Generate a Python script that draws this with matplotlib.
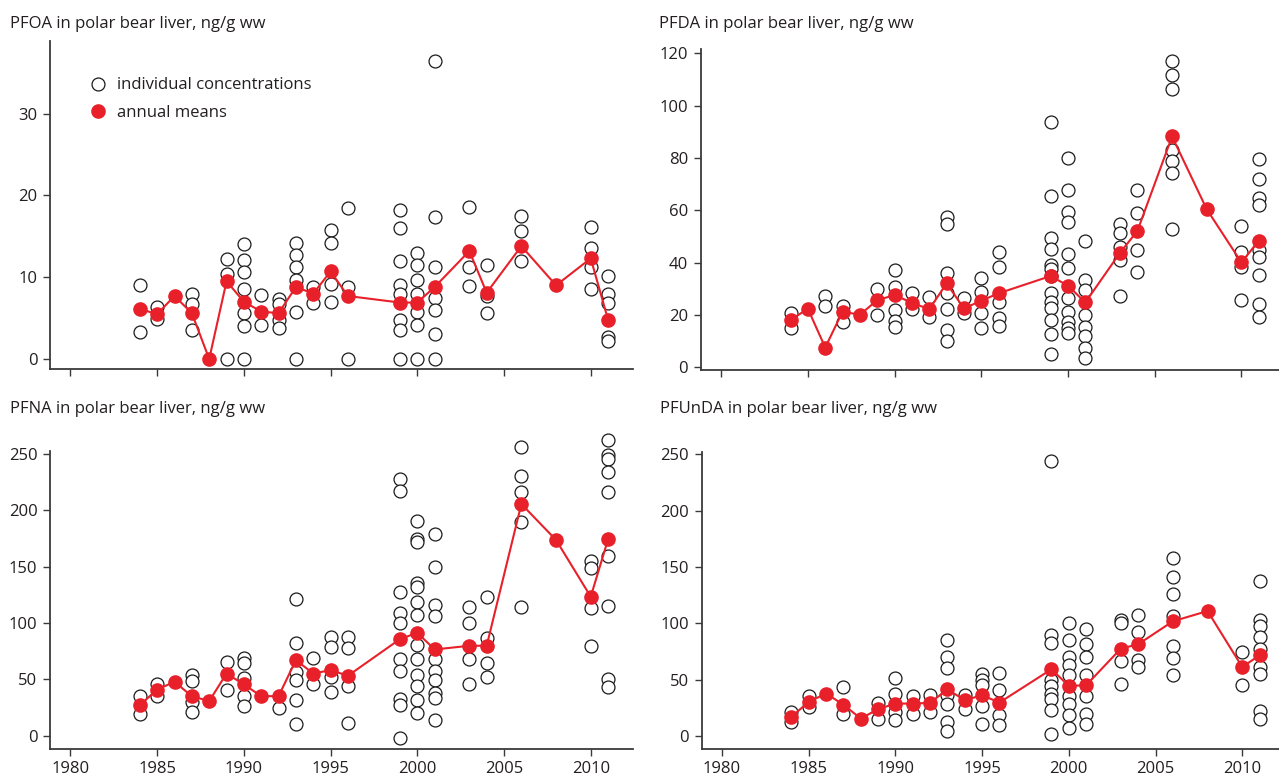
import matplotlib
matplotlib.use('Agg')
import matplotlib.pyplot as plt
from matplotlib.lines import Line2D

plt.rcParams['font.family'] = ['Open Sans', 'DejaVu Sans']

years = [1984, 1985, 1986, 1987, 1988, 1989, 1990, 1991, 1992, 1993, 1994,
         1995, 1996, 1999, 2000, 2001, 2003, 2004, 2006, 2008, 2010, 2011]

# PFOA
pfoa_means = [6.1, 5.5, 7.7, 5.6, 0, 9.5, 7.0, 5.8, 5.6, 8.8, 8.0,
              10.7, 7.7, 6.9, 6.9, 8.8, 13.2, 8.1, 13.8, 9.0, 12.3, 4.8]
pfoa_indiv = [
    [9.1, 3.3], [6.4, 4.9], [], [7.9, 6.7, 3.5], [], [12.2, 10.4, 0],
    [14.1, 12.1, 10.6, 8.6, 5.6, 4.0, 0], [7.8, 4.2], [7.3, 6.7, 4.8, 3.8],
    [14.2, 12.7, 11.2, 9.7, 5.8, 0], [8.8, 6.8], [15.8, 14.2, 9.2, 7.0],
    [18.4, 8.8, 0], [18.2, 16.0, 12.0, 9.0, 8.0, 4.8, 3.5, 0],
    [12.9, 11.5, 9.7, 8.0, 5.8, 4.2, 0], [36.4, 17.3, 11.3, 7.5, 6.0, 3.0, 0],
    [18.6, 11.3, 8.9], [11.5, 7.7, 5.6], [17.5, 15.6, 12.0], [],
    [16.1, 13.6, 11.2, 8.5], [10.1, 8.0, 6.9, 2.7, 2.2]]

# PFDA
pfda_means = [18.1, 22.4, 7.6, 21.3, 20.1, 25.7, 27.6, 24.7, 22.2, 32.1, 22.5,
              25.5, 28.3, 34.9, 31.2, 24.8, 43.8, 52.1, 88.2, 60.4, 40.1, 48.4]
pfda_indiv = [
    [20.6, 14.9], [], [27.1, 23.6], [23.6, 17.5], [], [29.8, 20.1],
    [37.2, 30.6, 21.9, 17.8, 15.3], [28.3, 22.3], [27.0, 19.4],
    [57.3, 54.8, 36.2, 28.3, 22.3, 14.3, 10.2], [26.6, 20.6],
    [34.0, 28.9, 20.6, 14.9], [43.9, 38.5, 25.1, 18.7, 15.8],
    [93.6, 65.5, 49.3, 45.1, 39.1, 37.5, 34.9, 28.3, 25.1, 22.5, 18.1, 12.7, 5.0],
    [79.9, 67.8, 59.2, 55.4, 43.2, 37.8, 26.4, 21.0, 17.5, 14.9, 13.0],
    [48.4, 33.4, 29.6, 20.0, 15.5, 12.0, 7.3, 3.7],
    [54.8, 51.2, 46.1, 41.0, 27.3], [67.8, 58.9, 44.8, 36.6],
    [117.2, 111.7, 106.2, 83.1, 79.0, 74.1, 52.7], [],
    [54.0, 44.2, 38.5, 25.7],
    [79.6, 72.0, 64.6, 62.0, 44.8, 42.0, 35.3, 24.2, 19.4]]

# PFNA
pfna_means = [27.2, 41.1, 47.9, 35.2, 30.8, 55.3, 45.6, 35.2, 35.2, 67.2, 55.3,
              58.3, 53.3, 85.8, 91.4, 76.6, 79.9, 79.9, 205.6, 173.7, 123.4, 174.3]
pfna_indiv = [
    [35.2, 19.8], [45.6, 35.2], [], [53.8, 48.8, 29.6, 21.3], [], [65.4, 40.5],
    [69.2, 64.2, 50.9, 35.2, 26.3], [], [24.3],
    [121.0, 82.0, 56.8, 49.4, 31.7, 10.9], [69.2, 46.4],
    [87.3, 79.0, 52.4, 39.1], [87.3, 77.5, 44.1, 11.5],
    [227.5, 217.2, 127.8, 109.2, 100.3, 67.8, 57.4, 33.1, 27.2, -1.5],
    [190.5, 174.6, 172.2, 135.2, 132.2, 118.3, 107.1, 80.5, 67.8, 54.4, 44.1, 31.7, 20.4],
    [179.0, 149.4, 116.0, 106.2, 67.8, 57.4, 49.4, 37.6, 34.0, 13.9],
    [114.5, 100.3, 68.6, 45.6], [122.8, 86.4, 64.8, 52.4],
    [255.9, 230.5, 216.6, 189.9, 114.5], [],
    [155.3, 149.1, 113.0, 79.9],
    [262.4, 249.1, 245.3, 234.3, 216.6, 159.8, 115.4, 50.0, 43.5]]

# PFUnDA
pfunda_means = [16.9, 30.2, 37.6, 27.8, 15.4, 23.7, 28.7, 28.7, 29.3, 41.4, 31.7,
                36.1, 29.6, 59.2, 44.4, 45.0, 77.5, 81.4, 101.8, 110.9, 61.2, 71.6]
pfunda_indiv = [
    [21.3, 12.4], [35.2, 25.7], [], [43.5, 19.2], [], [29.3, 15.4],
    [51.8, 37.6, 21.3, 13.9], [35.2, 19.8], [36.1, 21.3],
    [85.5, 70.1, 60.7, 36.1, 28.7, 12.4, 4.4], [36.1, 24.3],
    [54.7, 49.4, 45.0, 26.3, 10.9], [55.9, 40.5, 18.9, 9.5],
    [243.8, 89.3, 82.8, 49.4, 44.1, 37.6, 33.1, 23.4, 2.1],
    [100.3, 85.5, 70.1, 62.7, 53.8, 35.2, 28.7, 18.3, 7.4],
    [95.3, 81.4, 70.1, 53.8, 35.2, 19.8, 10.9],
    [103.3, 100.3, 66.6, 46.4], [107.1, 92.3, 67.2, 61.2],
    [158.0, 141.1, 125.7, 106.2, 79.6, 69.2, 53.8], [],
    [74.6, 45.0],
    [137.3, 102.7, 97.3, 87.9, 77.5, 61.2, 55.3, 21.9, 15.4]]

titles = ['PFOA in polar bear liver, ng/g ww', 'PFDA in polar bear liver, ng/g ww',
          'PFNA in polar bear liver, ng/g ww', 'PFUnDA in polar bear liver, ng/g ww']

TEXT = '#231f20'
RED = '#e8202a'
W, H = 1279, 778
FS = 12

fig = plt.figure(figsize=(12.79, 7.78), dpi=100)


def px_axes(left, top, right, bottom):
    return fig.add_axes([left / W, 1 - bottom / H, (right - left) / W, (bottom - top) / H])


panels = [
    (px_axes(50, 40.7, 632.7, 369), pfoa_means, pfoa_indiv, (-1.22, 38.9), range(0, 31, 10), False),
    (px_axes(700.7, 49.3, 1283.4, 369.5), pfda_means, pfda_indiv, (-0.8, 121.5), range(0, 121, 20), False),
    (px_axes(50, 451, 632.7, 748.5), pfna_means, pfna_indiv, (-11.2, 252.6), range(0, 251, 50), True),
    (px_axes(701.5, 451.5, 1284.2, 748.5), pfunda_means, pfunda_indiv, (-11.2, 252.6), range(0, 251, 50), True),
]

for ax, means, indiv, ylim, yticks, show_x in panels:
    xs = [y for y, vals in zip(years, indiv) for v in vals]
    vs = [v for vals in indiv for v in vals]
    ax.plot(xs, vs, linestyle='none', marker='o', ms=9.3, mfc='white', mec='#1a1a1a',
            mew=0.9, zorder=2, clip_on=False)
    ax.plot(years, means, color=RED, lw=1.5, marker='o', ms=9.5, mfc=RED, mec=RED,
            zorder=3, clip_on=False)

    ax.set_xlim(1978.82, 2012.42)
    ax.set_ylim(*ylim)
    ax.set_xticks(range(1980, 2011, 5))
    ax.set_yticks(list(yticks))
    if not show_x:
        ax.set_xticklabels([])
    for s in ['top', 'right']:
        ax.spines[s].set_visible(False)
    for s in ['left', 'bottom']:
        ax.spines[s].set_color('#3a3a3a')
        ax.spines[s].set_linewidth(1.3)
    ax.tick_params(direction='out', length=5, width=1, color='#3a3a3a',
                   labelsize=FS, labelcolor=TEXT, pad=4)
    ax.patch.set_alpha(0)

fig.text(10 / W, 1 - 28.3 / H, titles[0], fontsize=FS, color=TEXT, va='baseline')
fig.text(659.3 / W, 1 - 28.3 / H, titles[1], fontsize=FS, color=TEXT, va='baseline')
fig.text(10 / W, 1 - 413.3 / H, titles[2], fontsize=FS, color=TEXT, va='baseline')
fig.text(660 / W, 1 - 413.3 / H, titles[3], fontsize=FS, color=TEXT, va='baseline')

handles = [
    Line2D([], [], linestyle='none', marker='o', ms=9.3, mfc='white', mec='#1a1a1a', mew=0.9),
    Line2D([], [], linestyle='none', marker='o', ms=9.5, mfc=RED, mec=RED),
]
ax0 = panels[0][0]
leg = ax0.legend(handles, ['individual concentrations', 'annual means'],
                 loc='upper left', bbox_to_anchor=(0.0676, 0.888), frameon=False,
                 fontsize=FS, handlelength=1.0, handletextpad=0.65,
                 labelspacing=0.67, borderpad=0, borderaxespad=0)
for t in leg.get_texts():
    t.set_color(TEXT)

fig.savefig('out.png', dpi=100)
